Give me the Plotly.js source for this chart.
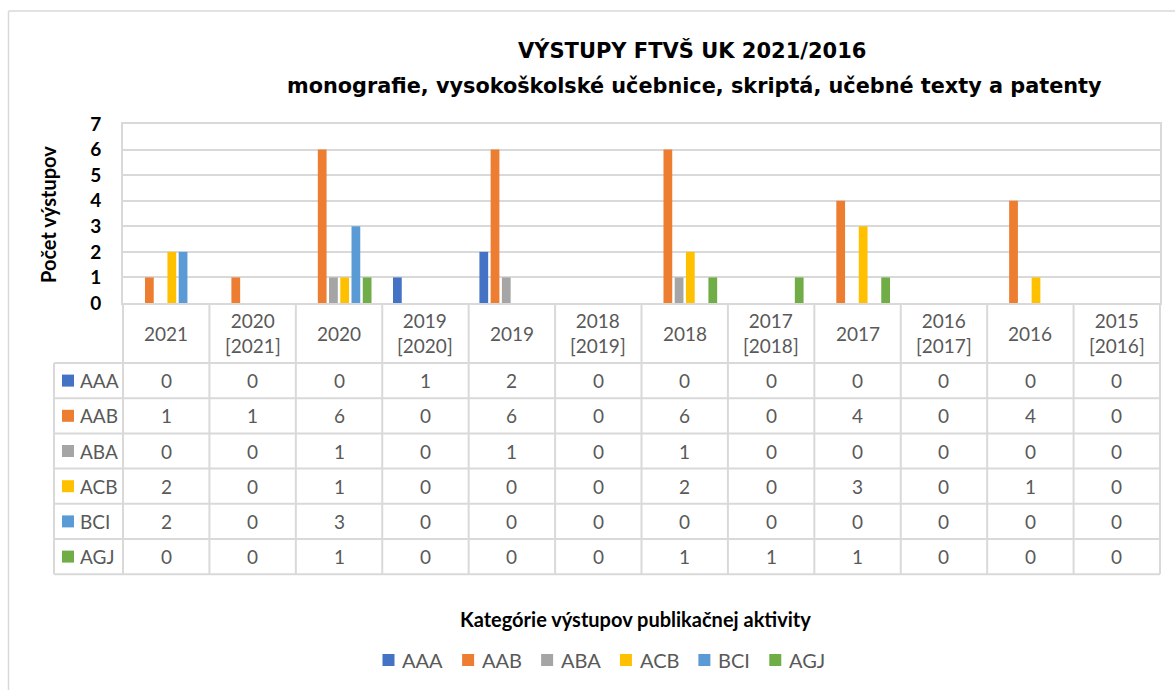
<!DOCTYPE html>
<html>
<head>
<meta charset="utf-8">
<script src="https://cdn.plot.ly/plotly-3.0.1.min.js"></script>
<style>html,body{margin:0;padding:0;background:#fff;}#chart{width:1175px;height:690px;}</style>
</head>
<body>
<div id="chart"></div>
<script>
// ---- data ----
const categories = ["2021", "2020 [2021]", "2020", "2019 [2020]", "2019", "2018 [2019]", "2018", "2017 [2018]", "2017", "2016 [2017]", "2016", "2015 [2016]"];
const seriesNames = ["AAA", "AAB", "ABA", "ACB", "BCI", "AGJ"];
const AAA = [0, 0, 0, 1, 2, 0, 0, 0, 0, 0, 0, 0];
const AAB = [1, 1, 6, 0, 6, 0, 6, 0, 4, 0, 4, 0];
const ABA = [0, 0, 1, 0, 1, 0, 1, 0, 0, 0, 0, 0];
const ACB = [2, 0, 1, 0, 0, 0, 2, 0, 3, 0, 1, 0];
const BCI = [2, 0, 3, 0, 0, 0, 0, 0, 0, 0, 0, 0];
const AGJ = [0, 0, 1, 0, 0, 0, 1, 1, 1, 0, 0, 0];
const yTicks = [0, 1, 2, 3, 4, 5, 6, 7];
const titleLine1 = "VÝSTUPY FTVŠ UK 2021/2016";
const titleLine2 = "monografie, vysokoškolské učebnice, skriptá, učebné texty a patenty";
const yTitle = "Počet výstupov";
const xTitle = "Kategórie výstupov publikačnej aktivity";

// ---- styles ----
const seriesValues = [AAA, AAB, ABA, ACB, BCI, AGJ];
const colors = ["#4472C4", "#ED7D31", "#A5A5A5", "#FFC000", "#5B9BD5", "#70AD47"];
const W = 1175, H = 690;
const M = {l: 123, r: 15, t: 124, b: 387};
const plotW = W - M.l - M.r, plotH = H - M.t - M.b;
const px2x = p => (p - M.l) / plotW;           // pixel -> paper x
const py2y = p => (H - M.b - p) / plotH;         // pixel -> paper y
const gridCol = "#D9D9D9";
const textGray = "#595959";
const tFont = "Lato, 'Open Sans', sans-serif";
const hFont = "DejaVu Sans, sans-serif";

const nCat = categories.length;
const headerH = 60, rowH = 35.2, legColW = 69;
const tableTop = H - M.b;               // pixel y of axis line
const rowsTop = tableTop + headerH;

const traces = seriesNames.map((n, i) => ({
  type: "bar", name: n, x: categories, y: seriesValues[i],
  marker: {color: colors[i]}, hoverinfo: "skip", showlegend: false
}));

const shapes = [];
const annotations = [];
const line = (x0, y0, x1, y1, c, w) => shapes.push({type: "line", xref: "paper", yref: "paper",
  x0: px2x(x0), y0: py2y(y0), x1: px2x(x1), y1: py2y(y1), line: {color: c, width: w}});
const square = (cx, cy, s, c) => shapes.push({type: "rect", xref: "paper", yref: "paper",
  x0: px2x(cx - s / 2), x1: px2x(cx + s / 2), y0: py2y(cy + s / 2), y1: py2y(cy - s / 2),
  fillcolor: c, line: {width: 0}});

// outer chart frame
line(8.5, 11, 8.5, 700, gridCol, 1.5);
line(8.5, 11, 1180, 11, gridCol, 1.5);

// table grid
const colW = plotW / nCat;
const tableBottom = rowsTop + rowH * seriesNames.length;
for (let k = 0; k <= nCat; k++) {
  const xx = M.l + k * colW;
  line(xx, tableTop, xx, tableBottom, gridCol, 2);
}
line(M.l - legColW, rowsTop, M.l - legColW, tableBottom, gridCol, 2);
for (let r = 0; r <= seriesNames.length; r++) {
  const yy = rowsTop + r * rowH;
  line(M.l - legColW, yy, M.l + plotW, yy, gridCol, 2);
}

// header
categories.forEach((c, i) => {
  annotations.push({xref: "paper", yref: "paper", x: (i + 0.5) / nCat, y: py2y(tableTop + headerH / 2),
    text: c.replace(" ", "<br>"), showarrow: false, xanchor: "center", yanchor: "middle",
    font: {family: tFont, size: 19, color: textGray}});
});
// rows
seriesNames.forEach((n, r) => {
  const cy = rowsTop + (r + 0.5) * rowH;
  square(M.l - legColW + 14, cy, 12, colors[r]);
  annotations.push({xref: "paper", yref: "paper", x: px2x(M.l - legColW + 24), y: py2y(cy),
    text: n, showarrow: false, xanchor: "left", yanchor: "middle",
    font: {family: tFont, size: 19, color: textGray}});
  seriesValues[r].forEach((v, i) => {
    annotations.push({xref: "paper", yref: "paper", x: (i + 0.5) / nCat, y: py2y(cy),
      text: String(v), showarrow: false, xanchor: "center", yanchor: "middle",
      font: {family: tFont, size: 19, color: textGray}});
  });
});

// bottom legend (squares + names, widths measured from the font)
const ctx = document.createElement("canvas").getContext("2d");
ctx.font = "20px Lato";
const legSq = 12, legGap = 8, legSep = 19, legCx = 604, legCy = 660;
const tw = seriesNames.map(n => ctx.measureText(n).width);
const total = tw.reduce((a, b) => a + b, 0) + seriesNames.length * (legSq + legGap + legSep) - legSep;
let lx = legCx - total / 2;
seriesNames.forEach((n, i) => {
  square(lx + legSq / 2, legCy, legSq, colors[i]);
  annotations.push({xref: "paper", yref: "paper", x: px2x(lx + legSq + legGap - 2), y: py2y(legCy),
    text: n, showarrow: false, xanchor: "left", yanchor: "middle",
    font: {family: tFont, size: 20, color: textGray}});
  lx += legSq + legGap + tw[i] + legSep;
});

// titles
annotations.push({xref: "paper", yref: "paper", x: px2x(692), y: py2y(50), text: "<b>" + titleLine1 + "</b>",
  showarrow: false, xanchor: "center", yanchor: "middle",
  font: {family: hFont, size: 21, color: "#000"}});
annotations.push({xref: "paper", yref: "paper", x: px2x(694), y: py2y(86), text: "<b>" + titleLine2 + "</b>",
  showarrow: false, xanchor: "center", yanchor: "middle",
  font: {family: hFont, size: 20.8, color: "#000"}});
annotations.push({xref: "paper", yref: "paper", x: px2x(48), y: py2y(215), text: "<b>" + yTitle + "</b>",
  showarrow: false, xanchor: "center", yanchor: "middle", textangle: -90,
  font: {family: tFont, size: 20, color: "#000"}});
annotations.push({xref: "paper", yref: "paper", x: px2x(635), y: py2y(619), text: "<b>" + xTitle + "</b>",
  showarrow: false, xanchor: "center", yanchor: "middle",
  font: {family: tFont, size: 20, color: "#000"}});

const layout = {
  width: W, height: H,
  margin: M,
  paper_bgcolor: "#fff", plot_bgcolor: "#fff",
  barmode: "group", bargap: 0.22, bargroupgap: 0.22,
  showlegend: false,
  xaxis: {type: "category", range: [-0.5, nCat - 0.5], showticklabels: false, ticks: "",
    showgrid: false, showline: true, linecolor: gridCol, linewidth: 2, mirror: true, zeroline: false, fixedrange: true},
  yaxis: {range: [0, 7], tickvals: yTicks, ticktext: yTicks.map(String), showgrid: true, gridcolor: gridCol, gridwidth: 2,
    showline: true, linecolor: gridCol, linewidth: 2, mirror: true, zeroline: false, ticks: "",
    tickfont: {family: tFont, size: 19, color: "#000", weight: "bold"}, ticklabelstandoff: 16, fixedrange: true},
  shapes: shapes,
  annotations: annotations
};

Plotly.newPlot("chart", traces, layout, {displayModeBar: false, staticPlot: true});
</script>
</body>
</html>
